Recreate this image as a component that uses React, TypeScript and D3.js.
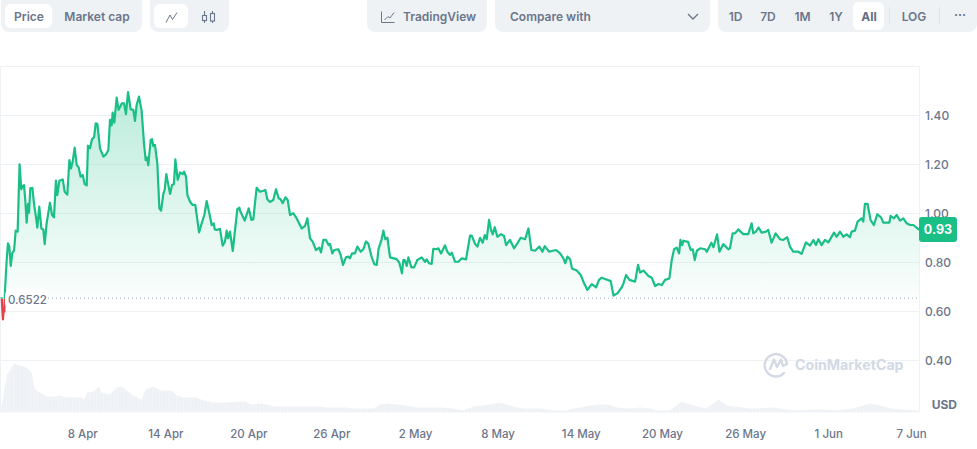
import React from "react";
import * as d3 from "d3";

// Time is expressed in days, with the 8 Apr tick at day 7.
const priceDays = [
  1.21,1.25,1.30,1.35,1.40,1.45,1.57,1.66,1.76,1.86,1.98,2.10,2.22,2.36,2.50,2.62,2.72,2.82,2.91,3.01,3.11,3.18,3.27,3.42,3.56,3.68,3.78,3.92,4.07,4.21,4.31,4.45,4.69,4.84,4.98,5.12,5.22,5.37,5.61,5.75,5.94,6.09,6.21,6.33,6.47,6.62,6.76,6.90,7.05,7.19,7.34,7.43,7.58,7.72,7.87,7.99,8.11,8.30,8.54,8.73,8.90,9.02,9.14,9.21,9.33,9.50,9.64,9.88,10.03,10.17,10.32,10.51,10.70,10.82,10.94,11.11,11.30,11.47,11.59,11.69,11.78,11.95,12.05,12.14,12.26,12.43,12.58,12.70,12.87,12.96,13.08,13.18,13.35,13.49,13.63,13.73,13.90,14.07,14.26,14.36,14.50,14.60,14.79,14.98,15.17,15.44,15.63,15.82,15.99,16.18,16.35,16.50,16.57,16.71,16.95,17.14,17.31,17.43,17.53,17.67,17.87,18.20,18.35,
  18.39,18.73,19.02,19.21,19.35,19.59,19.83,20.07,20.22,20.36,20.55,20.79,20.99,21.18,21.32,21.47,21.66,21.83,22.00,22.24,22.48,22.84,23.08,23.25,23.44,23.63,23.87,24.11,24.23,24.40,24.59,24.78,24.88,25.05,25.19,25.48,25.65,25.82,26.03,26.20,26.32,26.47,26.68,26.85,27.09,27.28,27.48,27.65,27.89,28.08,28.25,28.39,28.58,28.73,28.87,29.02,29.21,29.69,29.88,30.07,30.17,30.27,30.41,30.53,30.75,30.94,31.18,31.49,31.73,31.85,32.02,32.21,32.33,32.57,32.69,32.89,33.17,33.34,33.54,33.66,33.90,34.14,34.38,34.69,34.98,35.10,35.34,35.51,
  35.70,35.89,36.04,36.18,36.35,36.49,36.61,36.76,36.95,37.21,37.43,37.58,37.86,38.15,38.39,38.63,38.95,39.19,39.40,39.67,39.98,40.20,40.36,40.68,40.94,41.18,41.47,41.71,41.85,42.00,42.19,42.33,42.67,42.96,43.20,43.44,43.75,44.07,44.28,44.47,44.72,45.12,45.32,45.60,45.92,46.04,46.23,46.47,46.64,46.88,47.09,47.24,47.48,47.84,48.08,48.32,48.56,48.80,49.04,49.35,49.52,49.69,49.88,50.05,50.15,50.27,50.36,50.70,50.89,51.04,51.18,51.33,51.57,51.93,52.05,52.38,52.53,52.79,52.96,
  53.24,53.60,53.72,53.91,54.08,54.32,54.68,55.04,55.28,55.40,55.59,55.78,56.00,56.31,56.48,56.72,57.01,57.32,57.56,57.85,58.04,58.28,58.64,58.88,59.20,59.49,59.73,59.92,60.09,60.33,60.57,60.81,61.22,61.41,61.65,61.89,62.13,62.37,62.49,62.73,62.92,63.21,63.33,63.45,63.64,63.86,64.10,64.34,64.61,64.77,65.21,65.30,65.54,65.74,65.98,66.22,66.46,66.70,66.94,67.37,
];
const priceValues = [
  .658,.613,.568,.606,.599,.688,.810,.878,.865,.786,.840,.848,.930,.926,1.201,1.099,1.112,1.116,1.055,.963,1.039,1.003,1.103,1.105,1.031,.987,.942,1.028,.939,.935,.875,.960,1.044,.994,.984,1.134,1.075,1.134,1.139,1.089,1.077,1.218,1.184,1.212,1.269,1.198,1.188,1.150,1.157,1.120,1.115,1.277,1.266,1.303,1.311,1.368,1.365,1.266,1.232,1.241,1.259,1.382,1.360,1.412,1.371,1.473,1.423,1.450,1.450,1.406,1.496,1.425,1.423,1.378,1.443,1.477,1.420,1.286,1.218,1.229,1.197,1.300,1.303,1.275,1.280,1.205,1.021,1.012,1.082,1.096,1.161,1.130,1.080,1.116,1.120,1.221,1.137,1.168,1.161,1.171,1.150,1.075,1.048,1.035,1.035,.923,.960,.994,1.051,1.001,.953,.960,.935,.933,.937,.869,.885,.930,.899,.926,.847,1.018,1.024,
  1.012,.971,1.021,.974,.976,1.105,1.089,1.093,1.096,1.058,1.047,1.055,1.099,1.062,1.058,1.042,1.066,1.055,.994,1.001,.980,.939,.949,.980,.899,.885,.851,.861,.841,.892,.892,.871,.876,.837,.851,.854,.831,.790,.821,.824,.817,.837,.837,.865,.844,.854,.886,.876,.821,.793,.790,.858,.889,.930,.895,.901,.821,.814,.799,.756,.810,.810,.786,.821,.780,.780,.810,.821,.803,.813,.797,.794,.856,.854,.858,.837,.870,.844,.831,.840,.803,.803,.817,.813,.910,.910,.876,.865,
  .901,.881,.912,.895,.974,.933,.915,.944,.905,.916,.908,.871,.892,.858,.878,.901,.895,.939,.851,.848,.865,.844,.867,.844,.848,.851,.837,.817,.797,.824,.813,.776,.767,.749,.715,.688,.712,.699,.729,.738,.733,.724,.665,.674,.699,.715,.749,.729,.726,.722,.790,.759,.767,.745,.738,.704,.712,.708,.729,.735,.810,.854,.861,.837,.892,.871,.889,.884,.851,.854,.810,.848,.858,.854,.844,.881,.862,.915,.844,
  .875,.854,.858,.919,.919,.935,.916,.916,.960,.919,.926,.943,.922,.926,.933,.881,.919,.895,.892,.903,.865,.844,.844,.835,.882,.869,.892,.871,.895,.871,.892,.882,.922,.905,.926,.905,.915,.903,.926,.930,.967,.980,.967,1.039,1.039,.973,.953,.997,.984,.963,.963,.990,.980,.994,.971,.980,.960,.953,.953,.933,
];
const volumeDays = [
  1.10,1.28,1.57,2.10,2.53,3.01,3.37,3.56,3.97,4.45,4.93,5.41,5.89,6.37,6.98,7.14,7.38,7.82,8.23,8.42,9.02,9.50,9.86,10.34,10.70,11.30,11.59,12.14,12.62,13.47,13.83,14.31,15.27,15.75,16.47,17.43,18.39,
  18.75,19.23,19.95,20.43,20.79,24.16,24.64,26.08,26.56,28.01,28.49,29.09,30.41,31.13,32.81,33.78,34.50,35.22,36.42,37.14,38.10,38.82,40.03,40.99,41.83,42.43,42.91,
  43.27,44.11,44.95,45.55,46.52,47.24,47.96,48.32,49.40,50.24,51.08,52.00,52.89,53.49,54.69,55.17,56.85,58.30,60.22,61.42,62.62,63.82,64.55,65.27,66.23,67.31,
];
const volumeValues = [
  0,12,37,49,47,45,40,24,20,16,16,17,15,15,15,13,20,21,26,20,18,25,26,21,17,13,23,26,22,22,17,15,15,12,10,10,11,
  11,8,9,8,6,6,5,5,4,4,8,9,7,5,5,4,2,6,8,10,6,4,4,2,1.5,4,5,
  6,8,8,5,4,5,4,2,2,11,7,4,13,7,5,4,5,2,3,2,4,9,7,4,3,2,
];

const lastDay = 67.37;
const basePrice = 0.6522;
const lastPriceLabel = "0.93";
const priceTicks = [0.4, 0.6, 0.8, 1.0, 1.2, 1.4];
const dateTickDays = [7.05, 13.05, 19.03, 25.01, 31.05, 37.0, 43.0, 48.85, 54.85, 60.84, 66.82];
const dateTickLabels = ["8 Apr","14 Apr","20 Apr","26 Apr","2 May","8 May","14 May","20 May","26 May","1 Jun","7 Jun"];
const rangeLabels = ["1D","7D","1M","1Y"];
const rangeCenters = [735.5,768,802.5,836];

const FONT = "Inter, 'Noto Sans', sans-serif";
const GREEN = "#1abf85";
const RED = "#e2424c";
const GRID = "#eff2f5";
const TEXT = "#6b768a";
const BTN = "#eff2f5";

const x = d3.scaleLinear().domain([1.1, lastDay]).range([0.17, 919.3]);
const y = d3.scaleLinear().domain([0.4, 1.4]).range([360.5, 115.5]);
const vol = d3.scaleLinear().domain([0, 50]).range([412.5, 362.5]);

const points = priceDays.map((d, i) => [d, priceValues[i]] as [number, number]);
const volPoints = volumeDays.map((d, i) => [d, volumeValues[i]] as [number, number]);

const lineGen = d3.line<[number, number]>().x((d) => x(d[0])).y((d) => y(d[1]));
const areaGen = d3
  .area<[number, number]>()
  .x((d) => x(d[0]))
  .y0(y(basePrice))
  .y1((d) => y(d[1]));
const volGen = d3
  .area<[number, number]>()
  .x((d) => x(d[0]))
  .y0(vol(0))
  .y1((d) => vol(d[1]));

const Label = (p: { x: number; y?: number; children: any; anchor?: string; weight?: number; size?: number; fill?: string }) => (
  <text x={p.x} y={p.y ?? 20.5} textAnchor={(p.anchor ?? "middle") as any} fontSize={p.size ?? 12} fontWeight={p.weight ?? 600} fill={p.fill ?? TEXT} fontFamily={FONT}>
    {p.children}
  </text>
);

export default function App() {
  const baseY = y(basePrice);
  return (
    <svg width={977} height={449} style={{ position: "fixed", left: 0, top: 0, background: "#fff" }}>
      <defs>
        <linearGradient id="fillUp" x1="0" y1="90" x2="0" y2={baseY} gradientUnits="userSpaceOnUse">
          <stop offset="0" stopColor={GREEN} stopOpacity={0.3} />
          <stop offset="1" stopColor={GREEN} stopOpacity={0.02} />
        </linearGradient>
        <pattern id="volStripes" x={0} y={0} width={3.47} height={10} patternUnits="userSpaceOnUse">
          <rect width={3.47} height={10} fill="#f3f5f8" />
          <rect width={2.4} height={10} fill="#eef1f5" />
        </pattern>
        <clipPath id="above"><rect x={0} y={0} width={920} height={baseY} /></clipPath>
        <clipPath id="below"><rect x={0} y={baseY} width={920} height={100} /></clipPath>
      </defs>

      {/* toolbar */}
      <rect x={1} y={-8} width={141} height={40} rx={8} fill={BTN} />
      <rect x={5} y={4} width={47} height={24} rx={6} fill="#fff" />
      <Label x={29}>Price</Label>
      <Label x={97}>Market cap</Label>
      <rect x={150} y={-8} width={79} height={40} rx={8} fill={BTN} />
      <rect x={154} y={4} width={34} height={24} rx={6} fill="#fff" />
      <path d="M166 22.5 L170 15 L172.5 19.5 L177 12.5" fill="none" stroke={TEXT} strokeWidth={1} />
      <g fill="none" stroke={TEXT} strokeWidth={1.1}>
        <path d="M204.5 11 V23 M212.5 11 V23" />
        <rect x={202.5} y={15.5} width={4} height={5} fill={BTN} />
        <rect x={210.5} y={13.5} width={4} height={7.5} fill={BTN} />
      </g>
      <rect x={367} y={-8} width={120} height={40} rx={8} fill={BTN} />
      <path d="M381.5 11.5 V22.5 H394.5 M384.5 20 L388 16.5 L390 18 L394 12.5" fill="none" stroke={TEXT} strokeWidth={1} />
      <Label x={403} anchor="start">TradingView</Label>
      <rect x={495} y={-8} width={215} height={40} rx={8} fill={BTN} />
      <Label x={510} y={21} anchor="start">Compare with</Label>
      <path d="M688 14 L693 19 L698 14" fill="none" stroke={TEXT} strokeWidth={1.4} />
      <rect x={718} y={-8} width={259} height={40} rx={8} fill={BTN} />
      <rect x={853} y={2} width={31} height={28} rx={6} fill="#fff" />
      {rangeLabels.map((r, i) => (
        <Label key={r} x={rangeCenters[i]}>{r}</Label>
      ))}
      <Label x={869} weight={700} fill="#616e85">All</Label>
      <rect x={889} y={7} width={1} height={17} fill="#dfe3ea" />
      <Label x={914}>LOG</Label>
      <rect x={939} y={7} width={1} height={17} fill="#dfe3ea" />
      <Label x={960} y={19} weight={700}>···</Label>

      {/* frame and grid */}
      <line x1={0} x2={919.5} y1={66.5} y2={66.5} stroke={GRID} />
      <line x1={0.5} x2={0.5} y1={66} y2={412.5} stroke={GRID} />
      <line x1={919.5} x2={919.5} y1={66} y2={412.5} stroke={GRID} />
      {priceTicks.map((t) => (
        <g key={t}>
          <line x1={0} x2={919} y1={y(t)} y2={y(t)} stroke={GRID} />
          <text x={925} y={y(t) + 4.3} fontSize={12} fontWeight={500} fill={TEXT} fontFamily={FONT}>{t.toFixed(2)}</text>
        </g>
      ))}

      {/* volume */}
      <path d={volGen(volPoints) ?? ""} fill="url(#volStripes)" />

      {/* price */}
      <path d={areaGen(points) ?? ""} fill="url(#fillUp)" clipPath="url(#above)" />
      <path d={lineGen(points) ?? ""} fill="none" stroke={GREEN} strokeWidth={2.2} strokeLinejoin="round" clipPath="url(#above)" />
      <path d={lineGen(points) ?? ""} fill="none" stroke={RED} strokeWidth={2.2} strokeLinejoin="round" clipPath="url(#below)" />

      {/* baseline */}
      <line x1={48} x2={919} y1={baseY - 0.5} y2={baseY - 0.5} stroke="#a6b0c3" strokeWidth={1} strokeDasharray="1 3" />
      <rect x={5} y={289} width={43} height={20} rx={6} fill="#fff" />
      <text x={8} y={304} fontSize={11.5} fontWeight={500} fill={TEXT} fontFamily={FONT}>{basePrice}</text>

      {/* current price tag */}
      <rect x={919} y={217} width={38} height={25} rx={3} fill={GREEN} />
      <text x={938} y={234} textAnchor="middle" fontSize={12.5} fontWeight={700} fill="#fff" fontFamily={FONT}>{lastPriceLabel}</text>

      {/* date axis */}
      {dateTickDays.map((d, i) => (
        <text key={d} x={x(d)} y={438} textAnchor="middle" fontSize={11.5} fontWeight={500} fill={TEXT} fontFamily={FONT}>{dateTickLabels[i]}</text>
      ))}
      <text x={957} y={408.5} textAnchor="end" fontSize={12} fontWeight={700} fill={TEXT} fontFamily={FONT}>USD</text>

      {/* watermark */}
      <g fill="none" stroke="#d3d9e5" strokeWidth={2.4} strokeLinecap="round" strokeLinejoin="round">
        <path d="M784 373 A11.2 11.2 0 1 1 787 364" />
        <path d="M770 369 L774 359.5 L777 367 L781 359.5 L783 366 L787 364" />
      </g>
      <text x={795} y={370} fontSize={14.2} fontWeight={700} fill="#d3d9e5" fontFamily={FONT}>CoinMarketCap</text>
    </svg>
  );
}
